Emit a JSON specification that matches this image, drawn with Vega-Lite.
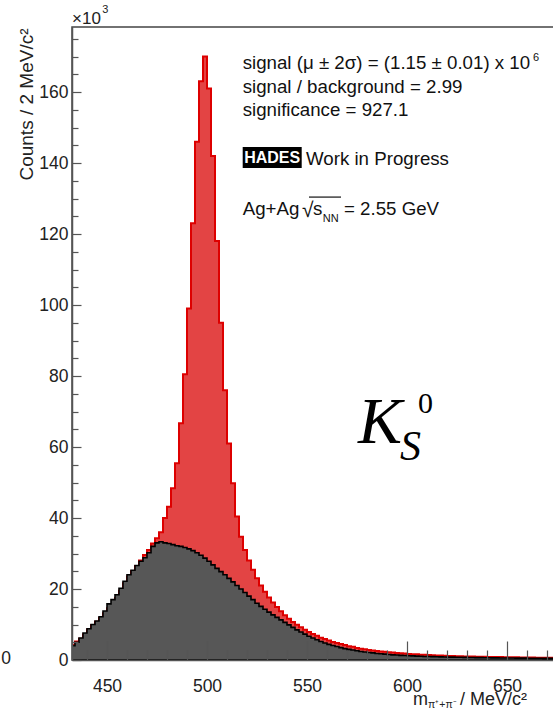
{
  "$schema": "https://vega.github.io/schema/vega-lite/v6.json",
  "width": 482,
  "height": 633,
  "autosize": {"type": "none"},
  "padding": {"left": 72, "top": 27, "right": 0, "bottom": 50},
  "background": "white",
  "config": {
    "view": {"stroke": "#444", "strokeWidth": 1.5},
    "font": "Liberation Sans",
    "axis": {"labelFont": "Liberation Sans", "titleFont": "Liberation Sans", "grid": false, "labelOverlap": false}
  },
  "resolve": {"axis": {"x": "independent", "y": "independent"}},
  "data": {"values": [
    {"m":432,"total":4.3,"bg":4.0},{"m":434,"total":5.2,"bg":5.0},{"m":436,"total":6.0,"bg":6.2},{"m":438,"total":7.2,"bg":7.6},
    {"m":440,"total":8.6,"bg":8.8},{"m":442,"total":9.8,"bg":10.0},{"m":444,"total":10.8,"bg":11.0},{"m":446,"total":11.8,"bg":12.2},
    {"m":448,"total":13.2,"bg":13.8},{"m":450,"total":14.6,"bg":15.8},{"m":452,"total":15.8,"bg":17.0},{"m":454,"total":17.5,"bg":18.4},
    {"m":456,"total":19.5,"bg":20.2},{"m":458,"total":21.6,"bg":22.2},{"m":460,"total":23.5,"bg":24.0},{"m":462,"total":25.0,"bg":25.3},
    {"m":464,"total":26.5,"bg":26.6},{"m":466,"total":28.0,"bg":27.8},{"m":468,"total":29.6,"bg":28.8},{"m":470,"total":31.0,"bg":30.2},
    {"m":472,"total":32.8,"bg":32.0},{"m":474,"total":34.3,"bg":33.0},{"m":476,"total":36.0,"bg":33.3},{"m":478,"total":40.0,"bg":33.0},
    {"m":480,"total":43.2,"bg":32.8},{"m":482,"total":48.4,"bg":32.5},{"m":484,"total":55.4,"bg":32.2},{"m":486,"total":66.7,"bg":32.0},
    {"m":488,"total":80.5,"bg":31.7},{"m":490,"total":99.0,"bg":31.3},{"m":492,"total":123.0,"bg":30.8},{"m":494,"total":146.0,"bg":30.2},
    {"m":496,"total":163.0,"bg":29.5},{"m":498,"total":170.0,"bg":28.7},{"m":500,"total":161.0,"bg":27.8},{"m":502,"total":142.0,"bg":26.8},
    {"m":504,"total":118.0,"bg":25.8},{"m":506,"total":95.0,"bg":24.9},{"m":508,"total":76.0,"bg":24.0},{"m":510,"total":61.0,"bg":23.0},
    {"m":512,"total":49.8,"bg":22.0},{"m":514,"total":40.4,"bg":21.0},{"m":516,"total":34.7,"bg":20.0},{"m":518,"total":31.0,"bg":19.0},
    {"m":520,"total":28.0,"bg":18.0},{"m":522,"total":25.4,"bg":17.0},{"m":524,"total":23.0,"bg":16.0},{"m":526,"total":21.0,"bg":15.1},
    {"m":528,"total":19.2,"bg":14.3},{"m":530,"total":17.6,"bg":13.5},{"m":532,"total":16.2,"bg":12.7},{"m":534,"total":14.9,"bg":12.0},
    {"m":536,"total":13.7,"bg":11.3},{"m":538,"total":12.6,"bg":10.6},{"m":540,"total":11.6,"bg":9.9},{"m":542,"total":10.7,"bg":9.2},
    {"m":544,"total":9.9,"bg":8.5},{"m":546,"total":9.2,"bg":7.9},{"m":548,"total":8.5,"bg":7.3},{"m":550,"total":7.9,"bg":6.7},
    {"m":552,"total":7.3,"bg":6.2},{"m":554,"total":6.8,"bg":5.7},{"m":556,"total":6.3,"bg":5.2},{"m":558,"total":5.9,"bg":4.8},
    {"m":560,"total":5.5,"bg":4.4},{"m":562,"total":5.1,"bg":4.1},{"m":564,"total":4.8,"bg":3.8},{"m":566,"total":4.5,"bg":3.5},
    {"m":568,"total":4.2,"bg":3.2},{"m":570,"total":3.9,"bg":3.0},{"m":572,"total":3.7,"bg":2.8},{"m":574,"total":3.4,"bg":2.6},
    {"m":576,"total":3.2,"bg":2.4},{"m":578,"total":3.0,"bg":2.25},{"m":580,"total":2.85,"bg":2.1},{"m":582,"total":2.7,"bg":2.0},
    {"m":584,"total":2.55,"bg":1.85},{"m":586,"total":2.4,"bg":1.75},{"m":588,"total":2.3,"bg":1.65},{"m":590,"total":2.2,"bg":1.55},
    {"m":592,"total":2.1,"bg":1.45},{"m":594,"total":2.0,"bg":1.4},{"m":596,"total":1.9,"bg":1.3},{"m":598,"total":1.8,"bg":1.25},
    {"m":600,"total":1.7,"bg":1.2},{"m":602,"total":1.65,"bg":1.15},{"m":604,"total":1.6,"bg":1.1},{"m":606,"total":1.5,"bg":1.05},
    {"m":608,"total":1.45,"bg":1.0},{"m":610,"total":1.4,"bg":0.97},{"m":612,"total":1.35,"bg":0.94},{"m":614,"total":1.3,"bg":0.91},
    {"m":616,"total":1.25,"bg":0.88},{"m":618,"total":1.2,"bg":0.85},{"m":620,"total":1.15,"bg":0.82},{"m":622,"total":1.12,"bg":0.8},
    {"m":624,"total":1.08,"bg":0.78},{"m":626,"total":1.05,"bg":0.76},{"m":628,"total":1.02,"bg":0.74},{"m":630,"total":1.0,"bg":0.72},
    {"m":632,"total":0.97,"bg":0.7},{"m":634,"total":0.95,"bg":0.68},{"m":636,"total":0.92,"bg":0.66},{"m":638,"total":0.9,"bg":0.64},
    {"m":640,"total":0.88,"bg":0.62},{"m":642,"total":0.86,"bg":0.6},{"m":644,"total":0.84,"bg":0.59},{"m":646,"total":0.82,"bg":0.58},
    {"m":648,"total":0.8,"bg":0.57},{"m":650,"total":0.78,"bg":0.56},{"m":652,"total":0.76,"bg":0.55},{"m":654,"total":0.74,"bg":0.54},
    {"m":656,"total":0.72,"bg":0.53},{"m":658,"total":0.7,"bg":0.52},{"m":660,"total":0.68,"bg":0.51},{"m":662,"total":0.67,"bg":0.5},
    {"m":664,"total":0.66,"bg":0.49},{"m":666,"total":0.65,"bg":0.48},{"m":668,"total":0.64,"bg":0.47},{"m":670,"total":0.63,"bg":0.46},
    {"m":672,"total":0.62,"bg":0.45},{"m":674,"total":0.61,"bg":0.44}
  ]},
  "layer": [
    {
      "mark": {"type": "area", "interpolate": "step-after", "clip": true, "fill": "#e34444", "fillOpacity": 1, "stroke": "#dd0000", "strokeWidth": 2},
      "encoding": {
        "x": {"field": "m", "type": "quantitative",
          "scale": {"domain": [432.5, 673.5], "nice": false, "zero": false},
          "axis": {
            "title": null, "orient": "bottom", "zindex": 1,
            "values": [450, 500, 550, 600, 650],
            "tickSize": -19, "labelPadding": 36,
            "labelFontSize": 17.5, "labelColor": "#222",
            "labelFlush": false, "labelOverlap": false, "labelBound": false,
            "domainColor": "#555", "domainWidth": 1.5, "tickColor": "#555", "tickWidth": 1.2
          }
        },
        "y": {"field": "total", "type": "quantitative",
          "scale": {"domain": [0, 178.31], "nice": false},
          "axis": {
            "title": "Counts / 2 MeV/c²", "orient": "left", "zindex": 1,
            "values": [0, 20, 40, 60, 80, 100, 120, 140, 160],
            "tickSize": -9, "labelPadding": 13,
            "labelFontSize": 17.5, "labelColor": "#222",
            "labelFlush": false, "labelOverlap": false, "labelBound": false,
            "domainColor": "#555", "domainWidth": 1.5, "tickColor": "#555", "tickWidth": 1.2,
            "titleFontSize": 19, "titleFontWeight": "normal", "titleColor": "#222",
            "titleAngle": -90, "titleAlign": "right", "titleBaseline": "alphabetic",
            "titleX": -40, "titleY": 1
          }
        }
      }
    },
    {
      "mark": {"type": "area", "interpolate": "step-after", "clip": true, "fill": "#575757", "stroke": "#000000", "strokeWidth": 1.6},
      "encoding": {
        "x": {"field": "m", "type": "quantitative",
          "axis": {
            "title": null, "orient": "bottom", "zindex": 1, "labels": false, "domain": false,
            "values": [440,460,470,480,490,510,520,530,540,560,570,580,590,610,620,630,640,660,670],
            "tickSize": -10, "tickColor": "#555", "tickWidth": 1.2
          }
        },
        "y": {"field": "bg", "type": "quantitative",
          "axis": {
            "title": null, "orient": "left", "zindex": 1, "labels": false, "domain": false,
            "values": [5,10,15,25,30,35,45,50,55,65,70,75,85,90,95,105,110,115,125,130,135,145,150,155,165,170,175],
            "tickSize": -6, "tickColor": "#555", "tickWidth": 1.2
          }
        }
      }
    },
    {"data": {"values": [{}]}, "mark": {"type": "text", "text": "signal (μ ± 2σ) = (1.15 ± 0.01) x 10", "align": "left", "baseline": "alphabetic", "fontSize": 18.7, "color": "#111"},
     "encoding": {"x": {"datum": 517.85, "type": "quantitative", "axis": null}, "y": {"datum": 166.4, "type": "quantitative", "axis": null}}},
    {"data": {"values": [{}]}, "mark": {"type": "text", "text": "6", "align": "left", "baseline": "alphabetic", "fontSize": 11, "color": "#111"},
     "encoding": {"x": {"datum": 663.0, "type": "quantitative", "axis": null}, "y": {"datum": 168.8, "type": "quantitative", "axis": null}}},
    {"data": {"values": [{}]}, "mark": {"type": "text", "text": "signal / background = 2.99", "align": "left", "baseline": "alphabetic", "fontSize": 18.7, "color": "#111"},
     "encoding": {"x": {"datum": 517.85, "type": "quantitative", "axis": null}, "y": {"datum": 159.6, "type": "quantitative", "axis": null}}},
    {"data": {"values": [{}]}, "mark": {"type": "text", "text": "significance = 927.1", "align": "left", "baseline": "alphabetic", "fontSize": 18.7, "color": "#111"},
     "encoding": {"x": {"datum": 517.85, "type": "quantitative", "axis": null}, "y": {"datum": 153.2, "type": "quantitative", "axis": null}}},
    {"data": {"values": [{}]}, "mark": {"type": "rect", "color": "#000", "opacity": 1},
     "encoding": {"x": {"datum": 517.85, "type": "quantitative", "axis": null}, "x2": {"datum": 547.35}, "y": {"datum": 144.5, "type": "quantitative", "axis": null}, "y2": {"datum": 138.6}}},
    {"data": {"values": [{}]}, "mark": {"type": "text", "text": "HADES", "align": "center", "baseline": "middle", "fontSize": 16, "fontWeight": "bold", "color": "#fff"},
     "encoding": {"x": {"datum": 532.6, "type": "quantitative", "axis": null}, "y": {"datum": 141.4, "type": "quantitative", "axis": null}}},
    {"data": {"values": [{}]}, "mark": {"type": "text", "text": "Work in Progress", "align": "left", "baseline": "alphabetic", "fontSize": 18.7, "color": "#111"},
     "encoding": {"x": {"datum": 549.5, "type": "quantitative", "axis": null}, "y": {"datum": 139.4, "type": "quantitative", "axis": null}}},
    {"data": {"values": [{}]}, "mark": {"type": "text", "text": "Ag+Ag", "align": "left", "baseline": "alphabetic", "fontSize": 18.7, "color": "#111"},
     "encoding": {"x": {"datum": 517.85, "type": "quantitative", "axis": null}, "y": {"datum": 125.35, "type": "quantitative", "axis": null}}},
    {"data": {"values": [{}]}, "mark": {"type": "text", "text": "√", "align": "left", "baseline": "alphabetic", "fontSize": 21, "color": "#111"},
     "encoding": {"x": {"datum": 547.5, "type": "quantitative", "axis": null}, "y": {"datum": 124.8, "type": "quantitative", "axis": null}}},
    {"data": {"values": [{}]}, "mark": {"type": "rule", "color": "#111", "strokeWidth": 1.2},
     "encoding": {"x": {"datum": 551.0, "type": "quantitative", "axis": null}, "x2": {"datum": 567.0}, "y": {"datum": 130.4, "type": "quantitative", "axis": null}}},
    {"data": {"values": [{}]}, "mark": {"type": "text", "text": "s", "align": "left", "baseline": "alphabetic", "fontSize": 18.7, "color": "#111"},
     "encoding": {"x": {"datum": 553.0, "type": "quantitative", "axis": null}, "y": {"datum": 125.35, "type": "quantitative", "axis": null}}},
    {"data": {"values": [{}]}, "mark": {"type": "text", "text": "NN", "align": "left", "baseline": "alphabetic", "fontSize": 11, "color": "#111"},
     "encoding": {"x": {"datum": 557.9, "type": "quantitative", "axis": null}, "y": {"datum": 123.5, "type": "quantitative", "axis": null}}},
    {"data": {"values": [{}]}, "mark": {"type": "text", "text": "= 2.55 GeV", "align": "left", "baseline": "alphabetic", "fontSize": 18.7, "color": "#111"},
     "encoding": {"x": {"datum": 568.5, "type": "quantitative", "axis": null}, "y": {"datum": 125.35, "type": "quantitative", "axis": null}}},
    {"data": {"values": [{}]}, "mark": {"type": "text", "text": "K", "align": "left", "baseline": "alphabetic", "fontSize": 66, "font": "Liberation Serif", "fontStyle": "italic", "color": "#000"},
     "encoding": {"x": {"datum": 575.5, "type": "quantitative", "axis": null}, "y": {"datum": 61.2, "type": "quantitative", "axis": null}}},
    {"data": {"values": [{}]}, "mark": {"type": "text", "text": "S", "align": "left", "baseline": "alphabetic", "fontSize": 42, "font": "Liberation Serif", "fontStyle": "italic", "color": "#000"},
     "encoding": {"x": {"datum": 596.5, "type": "quantitative", "axis": null}, "y": {"datum": 56.3, "type": "quantitative", "axis": null}}},
    {"data": {"values": [{}]}, "mark": {"type": "text", "text": "0", "align": "left", "baseline": "alphabetic", "fontSize": 30, "font": "Liberation Serif", "color": "#000"},
     "encoding": {"x": {"datum": 605.5, "type": "quantitative", "axis": null}, "y": {"datum": 69.6, "type": "quantitative", "axis": null}}},
    {"data": {"values": [{}]}, "mark": {"type": "text", "text": "×10", "align": "left", "baseline": "alphabetic", "fontSize": 17, "color": "#222"},
     "encoding": {"x": {"datum": 432.5, "type": "quantitative", "axis": null}, "y": {"datum": 179.2, "type": "quantitative", "axis": null}}},
    {"data": {"values": [{}]}, "mark": {"type": "text", "text": "3", "align": "left", "baseline": "alphabetic", "fontSize": 11, "color": "#222"},
     "encoding": {"x": {"datum": 447.6, "type": "quantitative", "axis": null}, "y": {"datum": 182.3, "type": "quantitative", "axis": null}}},
    {"data": {"values": [{}]}, "mark": {"type": "text", "text": "0", "align": "center", "baseline": "middle", "fontSize": 17.5, "color": "#222"},
     "encoding": {"x": {"datum": 399.5, "type": "quantitative", "axis": null}, "y": {"datum": 0.4, "type": "quantitative", "axis": null}}},
    {"data": {"values": [{}]}, "mark": {"type": "text", "text": "m", "align": "left", "baseline": "alphabetic", "fontSize": 18, "color": "#222"},
     "encoding": {"x": {"datum": 603.0, "type": "quantitative", "axis": null}, "y": {"datum": -12.8, "type": "quantitative", "axis": null}}},
    {"data": {"values": [{}]}, "mark": {"type": "text", "text": "π⁺+π⁻", "align": "left", "baseline": "alphabetic", "fontSize": 10.5, "color": "#222"},
     "encoding": {"x": {"datum": 610.5, "type": "quantitative", "axis": null}, "y": {"datum": -13.6, "type": "quantitative", "axis": null}}},
    {"data": {"values": [{}]}, "mark": {"type": "text", "text": "/ MeV/c²", "align": "left", "baseline": "alphabetic", "fontSize": 18, "color": "#222"},
     "encoding": {"x": {"datum": 626.5, "type": "quantitative", "axis": null}, "y": {"datum": -12.8, "type": "quantitative", "axis": null}}}
  ]
}
